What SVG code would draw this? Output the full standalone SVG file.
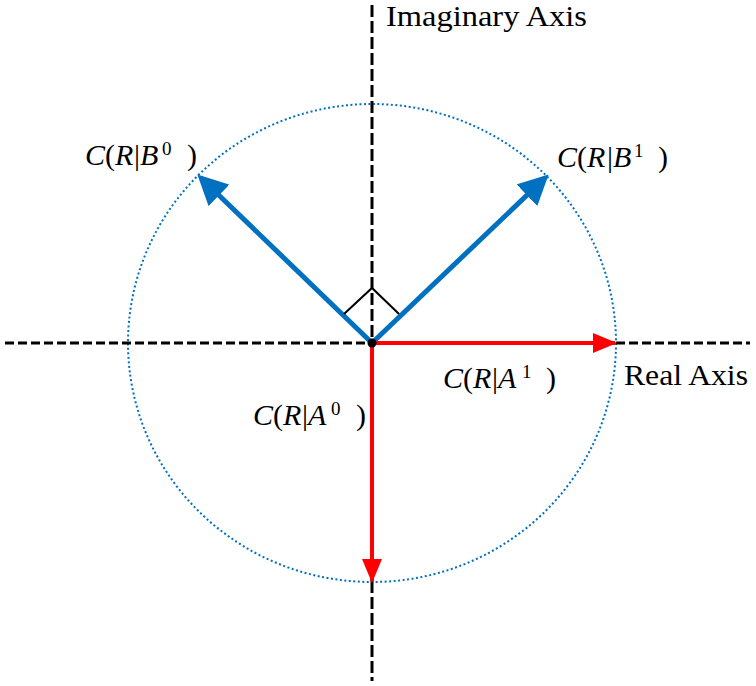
<svg xmlns="http://www.w3.org/2000/svg" width="756" height="686" viewBox="0 0 756 686">
<style>
.axh{stroke:#000;stroke-width:3;stroke-dasharray:9 4;fill:none}
.axv{stroke:#000;stroke-width:3;stroke-dasharray:12 4;fill:none}
.blue{stroke:#0070C0;stroke-width:5;fill:none}
.red{stroke:#FF0000;stroke-width:4;fill:none}
.lbl{font-family:"Liberation Serif","DejaVu Serif",serif;font-size:29px;fill:#000}
.m{font-family:"Liberation Serif","DejaVu Serif",serif;font-size:30px;fill:#000}
.i{font-style:italic}
.s{font-size:19px}
</style>
<defs>
<marker id="ab" markerWidth="6" markerHeight="6" refX="5" refY="3" orient="auto" markerUnits="strokeWidth" viewBox="0 0 6 6"><path d="M0,0 L6,3 L0,6 Z" fill="#0070C0"/></marker>
<marker id="ar" markerWidth="6" markerHeight="5" refX="5.5" refY="2.5" orient="auto" markerUnits="strokeWidth" viewBox="0 0 6 5"><path d="M0,0 L6,2.5 L0,5 Z" fill="#FF0000"/></marker>
</defs>
<rect width="756" height="686" fill="#fff"/>
<g id="circle"><ellipse cx="372" cy="343" rx="244" ry="239" fill="none" stroke="#0070C0" stroke-width="2" stroke-dasharray="2 2.5"/></g>
<g id="connectors">
<line class="axh" x1="5" y1="343" x2="750" y2="343"/>
<line class="axv" x1="372" y1="5" x2="372" y2="681"/>
<line class="blue" x1="372" y1="343" x2="201" y2="178" marker-end="url(#ab)"/>
<line class="blue" x1="372" y1="343" x2="545" y2="178" marker-end="url(#ab)"/>
<line class="red" x1="372" y1="343" x2="615" y2="343" marker-end="url(#ar)"/>
<line class="red" x1="372" y1="343" x2="372" y2="581" marker-end="url(#ar)"/>
<polyline points="344,314 372,288 399,314" fill="none" stroke="#000" stroke-width="2"/>
<circle cx="372" cy="343" r="4.5" fill="#000"/>
</g>
<g id="labels">
<text class="lbl" x="386" y="26" textLength="201" lengthAdjust="spacingAndGlyphs">Imaginary Axis</text>
<text class="lbl" x="624" y="385" textLength="124" lengthAdjust="spacingAndGlyphs">Real Axis</text>
<text id="lB0" class="m" y="165"><tspan class="i" x="85">C</tspan><tspan x="105">(</tspan><tspan class="i" x="115">R</tspan><tspan x="134">|</tspan><tspan class="i" x="140">B</tspan><tspan class="s" x="162" y="155">0</tspan><tspan x="187" y="165">)</tspan></text>
<text id="lB1" class="m" y="167"><tspan class="i" x="557">C</tspan><tspan x="577">(</tspan><tspan class="i" x="587">R</tspan><tspan x="607">|</tspan><tspan class="i" x="613">B</tspan><tspan class="s" x="634" y="157">1</tspan><tspan x="658" y="167">)</tspan></text>
<text id="lA0" class="m" y="425"><tspan class="i" x="253">C</tspan><tspan x="273">(</tspan><tspan class="i" x="283">R</tspan><tspan x="302">|</tspan><tspan class="i" x="308">A</tspan><tspan class="s" x="331" y="415">0</tspan><tspan x="356" y="425">)</tspan></text>
<text id="lA1" class="m" y="388"><tspan class="i" x="443">C</tspan><tspan x="463">(</tspan><tspan class="i" x="473">R</tspan><tspan x="492">|</tspan><tspan class="i" x="498">A</tspan><tspan class="s" x="522" y="378">1</tspan><tspan x="546" y="388">)</tspan></text>
</g>
</svg>
